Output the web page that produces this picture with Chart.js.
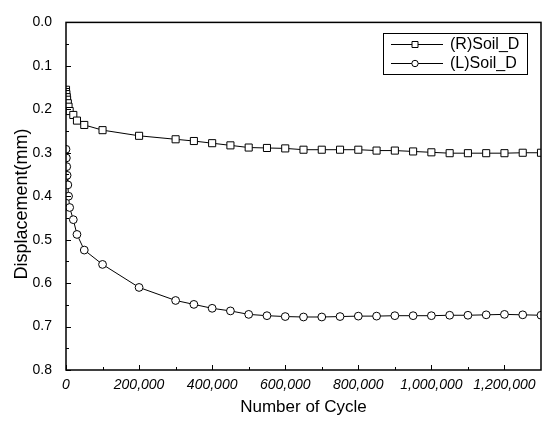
<!DOCTYPE html>
<html>
<head>
<meta charset="utf-8">
<script src="https://cdn.jsdelivr.net/npm/chart.js@4.4.1/dist/chart.umd.min.js"></script>
<style>
  html, body { margin: 0; padding: 0; background: #fff; }
  #wrap { width: 547px; height: 421px; }
</style>
</head>
<body>
<div id="wrap"><canvas id="c" width="547" height="421"></canvas></div>
<script>
// Cycle counts at which displacement was recorded
const cycles = [1, 1000, 2000, 3000, 5000, 7000, 10000, 20000, 30000, 50000, 100000,
  200000, 300000, 350000, 400000, 450000, 500000, 550000, 600000, 650000, 700000,
  750000, 800000, 850000, 900000, 950000, 1000000, 1050000, 1100000, 1150000,
  1200000, 1250000, 1300000];

// Right-side soil displacement (mm)
const soilR = [0.155, 0.165, 0.172, 0.178, 0.186, 0.194, 0.204, 0.213, 0.226, 0.236, 0.248,
  0.261, 0.269, 0.273, 0.278, 0.283, 0.288, 0.289, 0.290, 0.293, 0.293,
  0.293, 0.293, 0.295, 0.295, 0.297, 0.299, 0.301, 0.301, 0.301,
  0.301, 0.300, 0.300];

// Left-side soil displacement (mm)
const soilL = [0.292, 0.312, 0.332, 0.352, 0.374, 0.400, 0.426, 0.454, 0.488, 0.524, 0.557,
  0.610, 0.640, 0.649, 0.658, 0.664, 0.672, 0.675, 0.677, 0.678, 0.678,
  0.677, 0.676, 0.676, 0.675, 0.675, 0.675, 0.674, 0.674, 0.673,
  0.672, 0.673, 0.674];

const seriesNames = ['(R)Soil_D', '(L)Soil_D'];
const xTicks = [0, 200000, 400000, 600000, 800000, 1000000, 1200000];
const xMinorTicks = [100000, 300000, 500000, 700000, 900000, 1100000];
const yTicks = [0, 0.1, 0.2, 0.3, 0.4, 0.5, 0.6, 0.7, 0.8];
const yMinorTicks = [0.05, 0.15, 0.25, 0.35, 0.45, 0.55, 0.65, 0.75];
const yTitle = 'Displacement(mm)';
const xTitle = 'Number of Cycle';

const FONT = '"Liberation Sans", Arial, sans-serif';

function pts(ys) { return cycles.map((x, i) => ({ x: x, y: ys[i] })); }

// Frame around the plot, inward-pointing tick marks and the vertical axis title
const framePlugin = {
  id: 'frame',
  afterDatasetsDraw(chart) {
    const { ctx, chartArea: a, scales: { x, y } } = chart;
    ctx.save();
    ctx.strokeStyle = '#000';
    ctx.lineWidth = 1;
    ctx.beginPath();
    yTicks.forEach(v => { const p = Math.round(y.getPixelForValue(v)) + 0.5; ctx.moveTo(a.left, p); ctx.lineTo(a.left + 5, p); });
    yMinorTicks.forEach(v => { const p = Math.round(y.getPixelForValue(v)) + 0.5; ctx.moveTo(a.left, p); ctx.lineTo(a.left + 3, p); });
    xTicks.forEach(v => { const p = Math.round(x.getPixelForValue(v)) + 0.5; ctx.moveTo(p, a.bottom); ctx.lineTo(p, a.bottom - 5); });
    xMinorTicks.forEach(v => { const p = Math.round(x.getPixelForValue(v)) + 0.5; ctx.moveTo(p, a.bottom); ctx.lineTo(p, a.bottom - 3); });
    ctx.stroke();
    ctx.lineWidth = 1.5;
    ctx.strokeRect(a.left, a.top, a.right - a.left, a.bottom - a.top);

    ctx.translate(22, 204);
    ctx.rotate(-Math.PI / 2);
    ctx.fillStyle = '#000';
    ctx.font = '18px ' + FONT;
    ctx.textAlign = 'center';
    ctx.textBaseline = 'middle';
    ctx.fillText(yTitle, 0, 0);
    ctx.restore();
  }
};

// Boxed legend inside the plot
const boxLegendPlugin = {
  id: 'boxLegend',
  afterDraw(chart) {
    const { ctx } = chart;
    const bx = 383, by = 33, bw = 144, bh = 41;
    ctx.save();
    ctx.fillStyle = '#fff';
    ctx.fillRect(bx, by, bw, bh);
    ctx.strokeStyle = '#000';
    ctx.lineWidth = 1;
    ctx.strokeRect(bx + 0.5, by + 0.5, bw, bh);
    const rows = [by + 11, by + 30];
    chart.data.datasets.forEach((ds, i) => {
      const cy = rows[i] + 0.5;
      const mx = bx + 32;
      ctx.beginPath();
      ctx.moveTo(bx + 8, cy);
      ctx.lineTo(bx + 60, cy);
      ctx.lineWidth = 1;
      ctx.strokeStyle = '#000';
      ctx.stroke();
      ctx.fillStyle = '#fff';
      ctx.beginPath();
      if (ds.pointStyle === 'rect') {
        ctx.rect(mx - 3, cy - 3, 6, 6);
      } else {
        ctx.arc(mx, cy, 3.2, 0, Math.PI * 2);
      }
      ctx.fill();
      ctx.stroke();
      ctx.fillStyle = '#000';
      ctx.font = '16px ' + FONT;
      ctx.textBaseline = 'middle';
      ctx.fillText(ds.label, bx + 67, rows[i] + 1);
    });
    ctx.restore();
  }
};

new Chart(document.getElementById('c'), {
  type: 'line',
  data: {
    datasets: [
      {
        label: seriesNames[0], data: pts(soilR),
        borderColor: '#000', borderWidth: 1, backgroundColor: '#fff',
        pointStyle: 'rect', pointRadius: 5, pointBorderWidth: 1,
        pointBackgroundColor: '#fff', pointBorderColor: '#000', tension: 0
      },
      {
        label: seriesNames[1], data: pts(soilL),
        borderColor: '#000', borderWidth: 1, backgroundColor: '#fff',
        pointStyle: 'circle', pointRadius: 3.9, pointBorderWidth: 1,
        pointBackgroundColor: '#fff', pointBorderColor: '#000', tension: 0
      }
    ]
  },
  options: {
    responsive: false,
    animation: false,
    devicePixelRatio: 1,
    layout: { padding: { top: 15, right: 4, left: 0, bottom: 0 } },
    plugins: { legend: { display: false }, tooltip: { enabled: false } },
    scales: {
      x: {
        type: 'linear', min: 0, max: 1300000,
        grid: { display: false, drawTicks: false },
        border: { display: false },
        afterBuildTicks(s) { s.ticks = xTicks.map(v => ({ value: v })); },
        afterFit(s) { s.height = 51; },
        ticks: {
          padding: 7, color: '#000', maxRotation: 0, autoSkip: false,
          font: { family: FONT, size: 14, style: 'italic' },
          callback: v => v.toLocaleString('en-US')
        },
        title: {
          display: true, text: xTitle, color: '#000',
          font: { family: FONT, size: 17 }, padding: { top: 0, bottom: 3 }
        }
      },
      y: {
        type: 'linear', min: 0, max: 0.8, reverse: true,
        grid: { display: false, drawTicks: false },
        border: { display: false },
        afterBuildTicks(s) { s.ticks = yTicks.map(v => ({ value: v })); },
        afterFit(s) { s.width = 66; },
        ticks: {
          padding: 14, color: '#000',
          font: { family: FONT, size: 14 },
          callback: v => v.toFixed(1)
        },
        title: { display: false }
      }
    }
  },
  plugins: [framePlugin, boxLegendPlugin]
});
</script>
</body>
</html>
